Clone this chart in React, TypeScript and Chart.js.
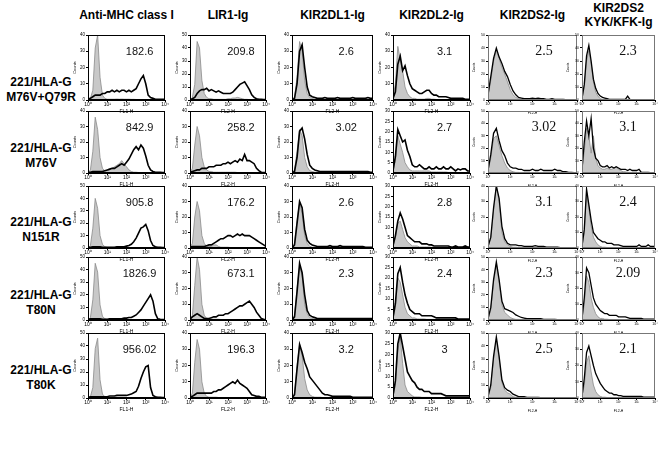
import React, { useEffect, useRef } from "react";
import { Chart, registerables } from "chart.js";

Chart.register(...registerables);

// ---- data ----
const DECADES = [0, 0.125, 0.25, 0.375, 0.5, 0.625, 0.75, 0.875, 1, 1.125, 1.25, 1.375, 1.5, 1.625, 1.75, 1.875, 2, 2.125, 2.25, 2.375, 2.5, 2.625, 2.75, 2.875, 3, 3.125, 3.25, 3.375, 3.5, 3.625, 3.75, 3.875, 4];
const X_TICK_LABELS = ["10\u2070", "10\u00b9", "10\u00b2", "10\u00b3", "10\u2074"];
const COLUMN_TITLES = [["Anti-MHC class I"], ["LIR1-Ig"], ["KIR2DL1-Ig"], ["KIR2DL2-Ig"], ["KIR2DS2-Ig"], ["KIR2DS2", "KYK/KFK-Ig"]];
const ROW_TITLES = [["221/HLA-G", "M76V+Q79R"], ["221/HLA-G", "M76V"], ["221/HLA-G", "N151R"], ["221/HLA-G", "T80N"], ["221/HLA-G", "T80K"]];
const X_TITLES = ["FL1-H", "FL2-H", "FL2-H", "FL2-H", "FL2-H", "FL2-H"];

const MFI_ROW1 = ["182.6", "209.8", "2.6", "3.1", "2.5", "2.3"];
const MFI_ROW2 = ["842.9", "258.2", "3.02", "2.7", "3.02", "3.1"];
const MFI_ROW3 = ["905.8", "176.2", "2.6", "2.8", "3.1", "2.4"];
const MFI_ROW4 = ["1826.9", "673.1", "2.3", "2.4", "2.3", "2.09"];
const MFI_ROW5 = ["956.02", "196.3", "3.2", "3", "2.5", "2.1"];

const YMAX_ROW1 = [40, 50, 40, 40, 50, 50];
const YMAX_ROW2 = [40, 40, 40, 30, 50, 50];
const YMAX_ROW3 = [50, 40, 40, 30, 40, 40];
const YMAX_ROW4 = [50, 40, 40, 30, 50, 40];
const YMAX_ROW5 = [50, 40, 40, 30, 50, 40];

// row 1
const CTRL_1_1 = [0,1,6,32,40,14,3,1, 0.5,0.5,0.5,0.5,0.6,0.5,0.6,0.5, 0.5,0.5,0.4,0.4,0.3,0.3,0.2,0.2, 0.2,0.1,0.1,0,0,0,0,0, 0];
const STAIN_1_1 = [0.5,1,2,3,3,3,4,4, 5,5,6,5,6,5,6,6, 5,6,5,6,7,10,13,15, 10,3,1.5,1,0.5,0.5,0.5,0.5, 0.5];
const CTRL_1_2 = [0,2,12,45,40,15,5,2, 1,1,0.5,0.5,0.5,0.5,0.5,0.5, 1,1,1.5,1.5,2,1.5,1,0.5, 0.5,0.3,0.2,0,0,0,0,0, 0];
const STAIN_1_2 = [0.5,1,2,5,7,8,8,9, 7,8,7,6,7,6,5,5, 5,5,6,8,10,12,13,14, 11,8,4,2,1,0.5,0.5,0.3, 0.3];
const CTRL_1_3 = [0,2,14,36,30,12,4,1.5, 1,0.5,0.5,0.5,0.3,0.3,0.3,0.3, 0.3,0.3,0.2,0.2,0.2,0.2,0.2,0.1, 0.1,0.1,0.1,0,0,0,0,0, 0];
const STAIN_1_3 = [0,1,10,30,34,20,8,3, 2,1.5,1,1,1,1.5,1,1, 1,1,1.5,1,1,1,1,1, 1.5,1,1,1,1,1,1.5,1, 1];
const CTRL_1_4 = [2,10,33,25,18,8,4,2, 1,1,0.5,0.5,0.5,0.5,1,1, 0.5,0.5,0.3,0.3,0.3,0.2,0.2,0.2, 0.1,0,0,0,0,0,0,0, 0];
const STAIN_1_4 = [1,5,22,27,18,21,15,10, 7,6,5,4,4,5,6,6, 4,3,3,2,2,2,2,1.5, 1,1,1,1,1,1,0.5,0.5, 0.5];
const CTRL_1_5 = [3,15,30,38,32,25,20,14, 8,4,2,1,0.5,0.5,0.3,0.3, 0.2,0.2,0.2,0.1,0.1,0,0,0, 0,0,0,0,0,0,0,0, 0];
const STAIN_1_5 = [4,18,32,40,33,28,22,18, 12,7,4,2,1.5,1,1,1, 1.5,1,1.5,1,1,0.5,0.5,1, 0.5,0.5,0.5,0.5,0.3,0.3,0.3,0.3, 0.3];
const CTRL_1_6 = [1,10,30,38,28,14,6,3, 1,0.5,0.3,0.3,0.2,0.2,0.2,0.1, 0.1,0.1,0,0,0,0,0,0, 0,0,0,0,0,0,0,0, 0];
const STAIN_1_6 = [1,12,34,42,30,16,9,5, 3,2,1.5,1,0.5,0.5,0.5,0.5, 0.5,0.5,0.5,0.5,3,0.5,0.3,0.3, 0.3,0.3,0.3,0.2,0.2,0.2,0.2,0.2, 0.2];

// row 2
const CTRL_2_1 = [0,2,14,36,28,10,3,1.5, 1.5,2,3,4,5,6,8,6, 4,2,1,0.5,0.5,0.3,0.3,0.2, 0.2,0.1,0,0,0,0,0,0, 0];
const STAIN_2_1 = [0.5,0.5,1,1,1,1,1,1.5, 2,2.5,3,3,4,5,6,5, 7,9,12,15,17,15,18,16, 11,5,2,1,0.5,0.5,0.5,0.3, 0.3];
const CTRL_2_2 = [0,3,18,30,24,10,4,2, 1,1,0.5,0.5,0.5,0.5,0.5,0.5, 0.5,0.5,0.5,0.5,0.3,0.3,0.3,0.2, 0.2,0.1,0,0,0,0,0,0, 0];
const STAIN_2_2 = [0.5,1,1.5,2,2,3,3,3, 4,4,4,5,5,5,6,6, 7,6,7,8,7,9,8,12, 8,8,7,6,3,1.5,0.5,0.3, 0.3];
const CTRL_2_3 = [0,2,14,28,24,10,4,1.5, 1,0.5,0.5,0.5,0.5,0.3,0.3,0.3, 0.3,0.3,0.2,0.2,0.2,0.2,0.1,0.1, 0.1,0.1,0,0,0,0,0,0, 0];
const STAIN_2_3 = [0,1,10,27,29,22,12,5, 3,2,1.5,1,1,1,1,1, 1,1,1,1,1,1,1,1, 1,1,1,1,1,1,1,0.5, 0.5];
const CTRL_2_4 = [1,6,18,14,10,5,3,1.5, 1,1,1,1,1,1,1,1, 0.5,0.5,0.5,0.5,0.5,0.5,0.5,0.3, 0.3,0.3,0.3,0.2,0.2,0.2,0,0, 0];
const STAIN_2_4 = [1,8,21,18,15,16,11,8, 4,3,3,4,3,2,2,3, 2,2,3,2,2,3,2,2, 3,2,1,2,1.5,2,2,1, 1];
const CTRL_2_5 = [2,12,28,30,22,14,8,4, 2,1,0.5,0.5,0.3,0.3,0.3,0.3, 0.2,0.2,0.2,0.1,0.1,0,0,0, 0,0,0,0,0,0,0,0, 0];
const STAIN_2_5 = [2,15,32,36,26,18,14,8, 5,4,4,3,3,2,2,2, 3,2,2,3,2,2,2,2, 3,2,2,1,1,0.5,0.5,0.3, 0.3];
const CTRL_2_6 = [2,18,36,30,16,30,12,6, 4,3,3,4,3,3,4,5, 3,2,1,1,0.5,0.5,0.3,0.3, 0.2,0.2,0.1,0,0,0,0,0, 0];
const STAIN_2_6 = [3,25,42,30,44,20,12,10, 6,5,5,6,4,5,4,5, 4,3,3,3,2,3,2,2, 2,3,0.5,0.5,0.5,0.5,0.3,0.3, 0.3];

// row 3
const CTRL_3_1 = [0,2,16,40,32,10,3,1, 0.5,0.5,0.5,0.5,0.5,0.5,0.5,0.5, 0.5,0.5,0.3,0.3,0.3,0.2,0.2,0.1, 0,0,0,0,0,0,0,0, 0];
const STAIN_3_1 = [0.5,0.5,1,1,1,1,0.5,0.5, 0.5,0.5,0.5,0.5,1,1,1,1, 1.5,2,3,5,8,12,16,17, 19,14,6,2,1,0.5,0.5,0.3, 0.3];
const CTRL_3_2 = [0,3,20,30,24,8,3,1, 1,1,2,2,1,0.5,0.5,0.5, 0.5,0.3,0.3,0.3,0.2,0.2,0.2,0.1, 0.1,0,0,0,0,0,0,0, 0];
const STAIN_3_2 = [0.5,1,1,1,1,1,1,1.5, 2,2,3,4,5,6,6,7, 8,8,7,8,9,8,9,8, 8,8,7,6,5,4,3,2, 1];
const CTRL_3_3 = [0,3,18,29,22,8,3,1, 0.5,0.5,0.5,0.3,0.3,0.3,0.3,0.3, 0.2,0.2,0.2,0.2,0.1,0.1,0.1,0.1, 0,0,0,0,0,0,0,0, 0];
const STAIN_3_3 = [0,2,16,30,26,12,5,3, 2,1.5,1,1,1,1,1,1.5, 1,1,1,1.5,1,1,1,1, 1,1,1,1,1,0.5,0.5,0.5, 0.5];
const CTRL_3_4 = [1,5,12,13,9,5,3,2, 1,1,1,0.5,0.5,0.5,0.5,0.5, 0.3,0.3,0.3,0.3,0.2,0.2,0.2,0.2, 0.1,0.1,0,0,0,0,0,0, 0];
const STAIN_3_4 = [1,6,13,17,14,10,6,5, 4,3,3,3,2,2,2,1.5, 1.5,1,1,1,1,1,1,1, 0.5,0.5,1,0.5,0.5,0.5,1,0.5, 0.5];
const CTRL_3_5 = [1,6,24,40,30,10,4,2, 1,0.5,0.5,0.3,0.3,0.3,0.2,0.2, 0.2,0.1,0.1,0.1,0,0,0,0, 0,0,0,0,0,0,0,0, 0];
const STAIN_3_5 = [1,7,26,40,32,14,6,3, 2,2,2,1.5,1.5,1,1,1, 1,1.5,1,1,1,0.5,0.5,0.5, 0.5,0.5,0.3,0.3,0.3,0.3,0.3,0.3, 0.3];
const CTRL_3_6 = [1,10,36,26,14,7,4,2, 1,0.5,0.5,0.3,0.3,0.3,0.2,0.2, 0.2,0.1,0.1,0.1,0,0,0,0, 0,0,0,0,0,0,0,0, 0];
const STAIN_3_6 = [1,12,38,28,18,10,8,6, 5,4,4,3,3,3,2,2, 2,1.5,1,1,1,1,1,1, 1,2,1,1,1,2,1,1, 1];

// row 4
const CTRL_4_1 = [0,2,16,45,38,12,3,1, 0.5,0.5,0.5,0.5,0.5,0.3,0.3,0.3, 0.3,0.3,0.3,0.2,0.2,0.2,0.1,0.1, 0,0,0,0,0,0,0,0, 0];
const STAIN_4_1 = [0.5,1,1,1,1,1,0.5,0.5, 0.5,1,1,1,1,1,1,1.5, 1.5,2,2,3,4,6,8,11, 14,17,20,15,5,1,0.5,0.3, 0.3];
const CTRL_4_2 = [0,3,22,40,32,10,3,1, 0.5,0.5,0.5,0.5,0.5,0.3,0.3,0.3, 0.3,0.3,0.2,0.2,0.2,0.1,0.1,0.1, 0,0,0,0,0,0,0,0, 0];
const STAIN_4_2 = [0.5,2,3,4,3,2,1,1, 1,1.5,2,2,3,3,3,4, 4,5,6,7,8,9,9,10, 11,12,10,8,5,3,1,0.5, 0.3];
const CTRL_4_3 = [0,3,20,34,28,10,4,1.5, 1,0.5,0.5,0.5,0.3,0.3,0.3,0.3, 0.2,0.2,0.2,0.2,0.1,0.1,0.1,0.1, 0,0,0,0,0,0,0,0, 0];
const STAIN_4_3 = [0,2,18,36,30,16,6,3, 2,1.5,1,1,1,1,1,1, 1,1,1,1,1,1,1,1, 1,1,1,1,1,1,1,1, 1];
const CTRL_4_4 = [1,6,20,18,12,6,3,2, 1,1,0.5,0.5,0.5,0.5,0.3,0.3, 0.3,0.3,0.2,0.2,0.2,0.2,0.1,0.1, 0,0,0,0,0,0,0,0, 0];
const STAIN_4_4 = [1,8,22,25,18,12,8,5, 4,3,3,3,2,2,2,2, 2,1.5,1,1,1,1,1,1, 1,1,1,0.5,0.5,0.5,0.5,0.5, 0.5];
const CTRL_4_5 = [1,8,30,44,30,12,6,4, 2,1,0.5,0.5,0.3,0.3,0.3,0.2, 0.2,0.2,0.1,0.1,0,0,0,0, 0,0,0,0,0,0,0,0, 0];
const STAIN_4_5 = [1,10,32,46,32,15,9,8, 7,6,4,3,2,1.5,1,1, 1,1,1,1,0.5,0.5,0.5,0.5, 0.5,0.3,0.3,0.3,0.3,0.3,0.3,0.3, 0.3];
const CTRL_4_6 = [1,10,28,24,14,8,4,2, 1,1,0.5,0.5,0.3,0.3,0.3,0.2, 0.2,0.2,0.1,0.1,0,0,0,0, 0,0,0,0,0,0,0,0, 0];
const STAIN_4_6 = [1,14,33,30,22,14,10,8, 6,5,4,4,3,3,3,3, 2,2,2,2,1.5,1,1,1, 1,1,1,0.5,0.5,0.5,0.5,0.5, 0.5];

// row 5
const CTRL_5_1 = [0,1,8,38,46,14,3,1, 0.5,0.5,0.5,0.5,0.5,0.3,0.3,0.3, 0.3,0.3,0.2,0.2,0.2,0.1,0.1,0.1, 0,0,0,0,0,0,0,0, 0];
const STAIN_5_1 = [0.5,1,1,1,1,1,1,1, 1,1.5,1.5,1.5,2,2,2,2, 2,2.5,3,4,5,9,15,20, 24,25,8,2,1,0.5,0.5,0.3, 0.3];
const CTRL_5_2 = [0,3,22,36,30,10,3,1, 0.5,0.5,0.5,0.5,0.3,0.3,0.3,0.3, 0.3,0.2,0.2,0.2,0.1,0.1,0.1,0, 0,0,0,0,0,0,0,0, 0];
const STAIN_5_2 = [0.5,1,2,3,3,3,3,3, 3,3,4,4,5,5,6,7, 8,9,10,9,11,9,8,7, 6,4,2,1.5,1,1,0.5,0.5, 0.5];
const CTRL_5_3 = [0,3,20,33,26,12,5,2, 1,0.5,0.5,0.5,0.3,0.3,0.3,0.3, 0.2,0.2,0.2,0.1,0.1,0.1,0,0, 0,0,0,0,0,0,0,0, 0];
const STAIN_5_3 = [0,2,18,33,28,22,18,13, 11,9,7,5,3,2,2,1.5, 1,1,1,1,1,1,1,1, 0.5,0.5,0.5,0.5,0.5,0.5,0.5,0.5, 0.5];
const CTRL_5_4 = [1,6,22,28,16,6,3,2, 1,0.5,0.5,0.5,0.3,0.3,0.3,0.3, 0.2,0.2,0.2,0.1,0.1,0,0,0, 0,0,0,0,0,0,0,0, 0];
const STAIN_5_4 = [1,8,25,30,24,18,12,10, 8,7,5,4,4,3,3,3, 2,2,2,2,2,1.5,1,1, 1,1,1,1,1,1,1,1, 1];
const CTRL_5_5 = [1,8,30,45,30,12,6,4, 3,1,0.5,0.5,0.3,0.3,0.2,0.2, 0.1,0.1,0,0,0,0,0,0, 0,0,0,0,0,0,0,0, 0];
const STAIN_5_5 = [1,10,32,47,32,14,8,6, 5,3,2,1,1,1,0.5,0.5, 0.5,0.5,0.5,0.3,0.3,0.3,0.3,0.3, 0.3,0.3,0.3,0.3,0.3,0.3,0.3,0.3, 0.3];
const CTRL_5_6 = [1,8,22,26,16,8,4,2, 1,0.5,0.5,0.3,0.3,0.3,0.2,0.2, 0.1,0.1,0,0,0,0,0,0, 0,0,0,0,0,0,0,0, 0];
const STAIN_5_6 = [1,12,28,32,26,20,15,12, 9,7,5,4,3,3,2,2, 1.5,1.5,1,1,1,1,1,1, 1,1,1,0.5,0.5,0.5,0.5,0.5, 0.5];

const CONTROLS = [
  [CTRL_1_1, CTRL_1_2, CTRL_1_3, CTRL_1_4, CTRL_1_5, CTRL_1_6],
  [CTRL_2_1, CTRL_2_2, CTRL_2_3, CTRL_2_4, CTRL_2_5, CTRL_2_6],
  [CTRL_3_1, CTRL_3_2, CTRL_3_3, CTRL_3_4, CTRL_3_5, CTRL_3_6],
  [CTRL_4_1, CTRL_4_2, CTRL_4_3, CTRL_4_4, CTRL_4_5, CTRL_4_6],
  [CTRL_5_1, CTRL_5_2, CTRL_5_3, CTRL_5_4, CTRL_5_5, CTRL_5_6],
];
const STAINS = [
  [STAIN_1_1, STAIN_1_2, STAIN_1_3, STAIN_1_4, STAIN_1_5, STAIN_1_6],
  [STAIN_2_1, STAIN_2_2, STAIN_2_3, STAIN_2_4, STAIN_2_5, STAIN_2_6],
  [STAIN_3_1, STAIN_3_2, STAIN_3_3, STAIN_3_4, STAIN_3_5, STAIN_3_6],
  [STAIN_4_1, STAIN_4_2, STAIN_4_3, STAIN_4_4, STAIN_4_5, STAIN_4_6],
  [STAIN_5_1, STAIN_5_2, STAIN_5_3, STAIN_5_4, STAIN_5_5, STAIN_5_6],
];
const MFIS = [MFI_ROW1, MFI_ROW2, MFI_ROW3, MFI_ROW4, MFI_ROW5];
const YMAXES = [YMAX_ROW1, YMAX_ROW2, YMAX_ROW3, YMAX_ROW4, YMAX_ROW5];

// ---- layout ----
const COL_LEFT = [88, 190, 292, 393, 488, 582];
const COL_WIDTH = [77, 76, 81, 77, 89, 73];
const ROW_TOP = [35, 111, 186, 257, 333];
const ROW_HEIGHT = [65, 62, 62, 63, 65];
const ROW_LABEL_Y = [90, 156, 230, 303, 378];
const AX_L = 16;
const AX_B = 15;
const PAD_T = 4;
const PAD_R = 7;
const SANS = "'Liberation Sans', Arial, Helvetica, sans-serif";
const SERIF = "'Liberation Serif', 'Times New Roman', serif";

type PanelProps = {
  left: number; top: number; width: number; height: number;
  ctrl: number[]; stain: number[]; ymax: number; xTitle: string; small: boolean;
};

function Panel({ left, top, width, height, ctrl, stain, ymax, xTitle, small }: PanelProps) {
  const ref = useRef<HTMLCanvasElement>(null);
  const cw = width + AX_L + PAD_R;
  const ch = height + AX_B + PAD_T;
  useEffect(() => {
    const tickSize = small ? 3.5 : 5;
    const step = ymax === 30 ? 5 : 10;
    const chart = new Chart(ref.current as HTMLCanvasElement, {
      type: "line",
      data: {
        datasets: [
          {
            data: DECADES.map((x, i) => ({ x, y: stain[i] })),
            borderColor: "#000",
            borderWidth: small ? 1.3 : 1.6,
            pointRadius: 0,
            fill: false,
            tension: 0,
            order: 0,
          },
          {
            data: DECADES.map((x, i) => ({ x, y: ctrl[i] })),
            borderColor: "#8a8a8a",
            borderWidth: 0.8,
            backgroundColor: "#c8c8c8",
            pointRadius: 0,
            fill: "origin",
            tension: 0,
            order: 1,
          },
        ],
      },
      options: {
        animation: false,
        responsive: false,
        events: [],
        layout: { padding: { top: PAD_T, right: PAD_R, left: 0, bottom: 0 } },
        plugins: { legend: { display: false }, tooltip: { enabled: false } },
        scales: {
          x: {
            type: "linear",
            min: 0,
            max: 4,
            afterFit: (s: any) => { s.height = AX_B; },
            ticks: {
              stepSize: 1,
              autoSkip: false,
              maxRotation: 0,
              padding: 0,
              color: "#000",
              font: { size: tickSize, family: SANS },
              callback: (v: any) => X_TICK_LABELS[Number(v)] ?? "",
            },
            grid: { display: true, drawOnChartArea: false, tickLength: 2, color: "#000" },
            border: { display: true, color: "#000", width: 1 },
            title: { display: true, text: xTitle, padding: 0, color: "#000", font: { size: tickSize, family: SANS } },
          },
          y: {
            min: 0,
            max: ymax,
            afterFit: (s: any) => { s.width = AX_L; },
            ticks: {
              stepSize: step,
              padding: 1,
              color: "#000",
              font: { size: small ? 3.5 : 4.5, family: SANS },
            },
            grid: { display: true, drawOnChartArea: false, tickLength: 2, color: "#000" },
            border: { display: true, color: "#000", width: 1 },
            title: { display: true, text: "Counts", padding: 0, color: "#000", font: { size: small ? 3 : 4, family: SANS } },
          },
        },
      },
      plugins: [
        {
          id: "frame",
          afterDraw(c: any) {
            const a = c.chartArea;
            const ctx = c.ctx;
            ctx.save();
            ctx.strokeStyle = small ? "#777" : "#000";
            ctx.lineWidth = 1;
            ctx.strokeRect(Math.round(a.left) + 0.5, Math.round(a.top) + 0.5, Math.round(a.right - a.left) - 1, Math.round(a.bottom - a.top) - 1);
            ctx.restore();
          },
        },
      ],
    });
    return () => chart.destroy();
  }, [ctrl, stain, ymax, xTitle, small]);
  return (
    <canvas
      ref={ref}
      width={cw}
      height={ch}
      style={{ position: "absolute", left: left - AX_L, top: top - PAD_T, width: cw, height: ch }}
    />
  );
}

export default function App() {
  const items: React.ReactNode[] = [];
  COLUMN_TITLES.forEach((lines, c) => {
    const cx = COL_LEFT[c] + COL_WIDTH[c] / 2;
    items.push(
      <div key={"h" + c} style={{ position: "absolute", left: cx - 60, width: 120, top: lines.length > 1 ? 1 : 8, textAlign: "center", font: `bold 12px ${SANS}`, lineHeight: "14px", color: "#000" }}>
        {lines.map((l, i) => <div key={i}>{l}</div>)}
      </div>
    );
  });
  ROW_TITLES.forEach((lines, r) => {
    items.push(
      <div key={"r" + r} style={{ position: "absolute", left: 0, width: 82, top: ROW_LABEL_Y[r] - 15, textAlign: "center", font: `bold 12px ${SANS}`, lineHeight: "15px", color: "#000" }}>
        {lines.map((l, i) => <div key={i}>{l}</div>)}
      </div>
    );
  });
  ROW_TOP.forEach((top, r) => {
    COL_LEFT.forEach((left, c) => {
      const small = c >= 4;
      items.push(
        <Panel
          key={`p${r}-${c}`}
          left={left}
          top={top}
          width={COL_WIDTH[c]}
          height={ROW_HEIGHT[r]}
          ctrl={CONTROLS[r][c]}
          stain={STAINS[r][c]}
          ymax={YMAXES[r][c]}
          xTitle={X_TITLES[c]}
          small={small}
        />
      );
      const vx = left + COL_WIDTH[c] * (small ? 0.63 : 0.67);
      const vy = top + 16;
      items.push(
        <div key={`v${r}-${c}`} style={{ position: "absolute", left: vx - 30, width: 60, top: vy - 8, textAlign: "center", font: small ? `14px ${SERIF}` : `11px ${SANS}`, lineHeight: "16px", color: "#111" }}>
          {MFIS[r][c]}
        </div>
      );
    });
  });
  return (
    <div style={{ position: "absolute", left: 0, top: 0, width: 661, height: 467, background: "#fff", overflow: "hidden" }}>
      {items}
    </div>
  );
}
